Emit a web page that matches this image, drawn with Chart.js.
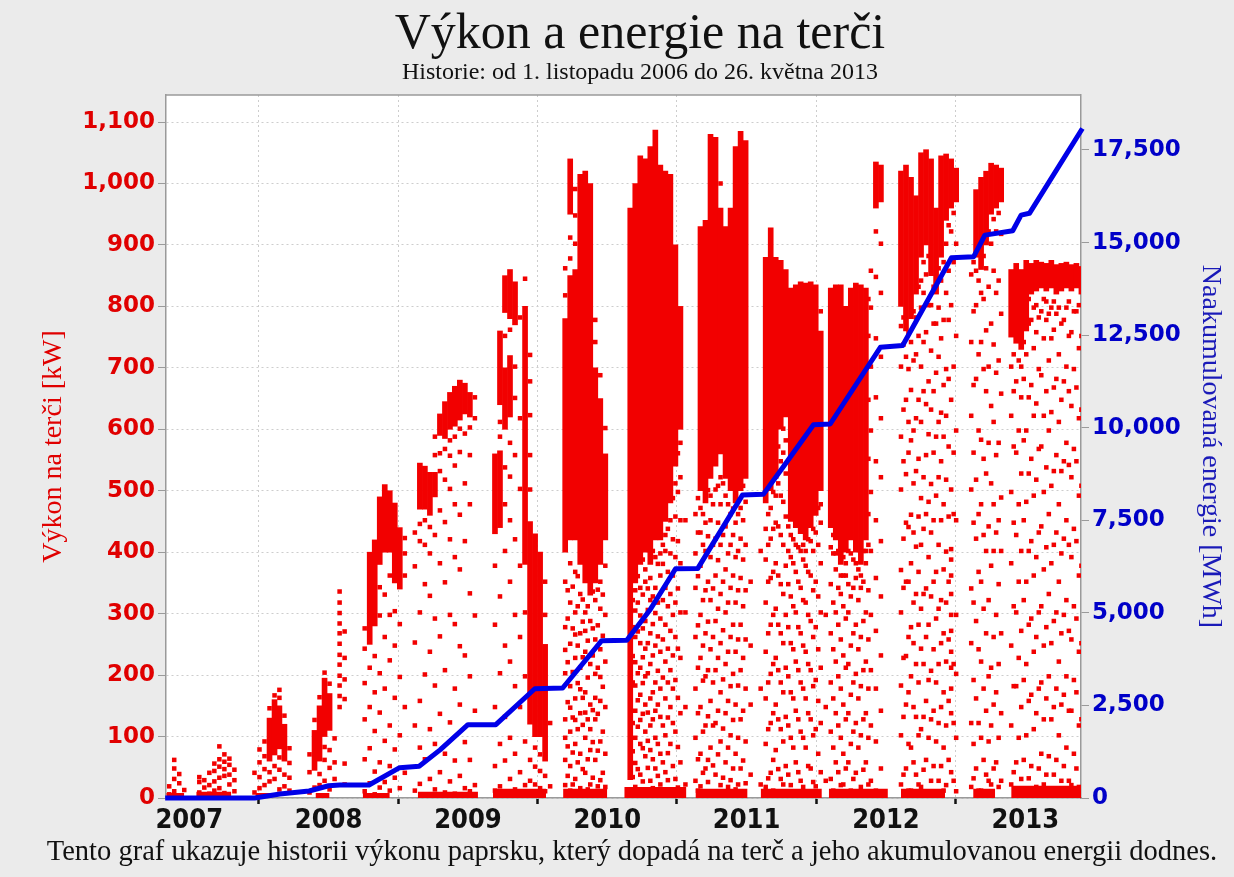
<!DOCTYPE html>
<html>
<head>
<meta charset="utf-8">
<script src="https://cdn.jsdelivr.net/npm/chart.js@4.4.0/dist/chart.umd.min.js"></script>
<style>
  html, body { margin: 0; padding: 0; background: #ebebeb; }
  #wrap { position: relative; width: 1234px; height: 877px; overflow: hidden; }
  #chart { position: absolute; left: 0; top: 0; }
  .txt { position: absolute; left: 0; width: 1280px; text-align: center; line-height: 1;
         font-family: "Liberation Serif", "Times New Roman", serif; color: #111; white-space: nowrap; }
</style>
</head>
<body>
<div id="wrap">
  <canvas id="chart" width="1234" height="877"></canvas>
  <div class="txt" style="top:6px;font-size:50px">Výkon a energie na terči</div>
  <div class="txt" style="top:59px;font-size:24px">Historie: od 1. listopadu 2006 do 26. května 2013</div>
  <div class="txt" style="top:837px;font-size:28.5px;width:1264px">Tento graf ukazuje historii výkonu paprsku, který dopadá na terč a jeho akumulovanou energii dodnes.</div>
</div>
<script>
// axis ticks
const yearTicks = [2007, 2008, 2009, 2010, 2011, 2012, 2013];
const powerTicks = [0, 100, 200, 300, 400, 500, 600, 700, 800, 900, 1000, 1100];
const energyTicks = [0, 2500, 5000, 7500, 10000, 12500, 15000, 17500];

// accumulated energy on target [MWh]
const energyYear = [2006.827, 2007.47, 2007.65, 2007.86, 2008.00, 2008.08, 2008.29, 2008.51, 2008.65, 2008.80,
  2009.00, 2009.20, 2009.48, 2009.68, 2009.96, 2010.14, 2010.31, 2010.49, 2010.65, 2010.97, 2011.12, 2011.27,
  2011.48, 2011.60, 2011.96, 2012.12, 2012.47, 2012.63, 2012.71, 2012.91, 2012.97, 2013.03, 2013.41];
const energyMWh = [0, 0, 110, 190, 330, 350, 350, 820, 860, 1300,
  1980, 1980, 2950, 2970, 4250, 4260, 5100, 6190, 6200, 8180, 8200, 8980,
  10080, 10100, 12170, 12220, 14590, 14620, 15200, 15320, 15740, 15790, 18080];

// beam-on periods: near-zero samples along the bottom [start, end, kW]
const baseStart = [2006.835, 2007.050, 2007.475, 2007.906, 2008.245, 2008.640, 2009.180, 2009.683, 2010.122, 2010.633, 2011.101, 2011.590, 2012.108, 2012.626, 2012.899];
const baseEnd   = [2006.964, 2007.302, 2007.590, 2008.007, 2008.439, 2009.072, 2009.561, 2010.000, 2010.568, 2011.007, 2011.540, 2012.014, 2012.424, 2012.784, 2013.410];
const baseKW    = [8, 10, 8, 8, 8, 10, 15, 15, 18, 15, 15, 15, 15, 15, 20];

// dense power bands: [year, low kW, high kW]
const bands = [
  [2007.576, 60, 130], [2007.612, 70, 160], [2007.647, 80, 150], [2007.683, 60, 120],
  [2007.899, 45, 110], [2007.935, 60, 150], [2007.971, 100, 195], [2008.007, 110, 170],
  [2008.295, 250, 400], [2008.331, 280, 420], [2008.367, 380, 490], [2008.403, 400, 510], [2008.439, 400, 500], [2008.475, 350, 480], [2008.511, 340, 440],
  [2008.655, 470, 545], [2008.691, 470, 540], [2008.727, 460, 530], [2008.763, 490, 530], [2008.799, 590, 625], [2008.835, 585, 645],
  [2008.871, 600, 660], [2008.906, 605, 670], [2008.942, 615, 680], [2008.978, 625, 675], [2009.014, 620, 660],
  [2009.194, 430, 560], [2009.230, 440, 565], [2009.230, 640, 760], [2009.266, 600, 700], [2009.266, 790, 850], [2009.302, 780, 860],
  [2009.302, 620, 720], [2009.338, 770, 840], [2009.410, 380, 800], [2009.446, 120, 450], [2009.482, 100, 430], [2009.518, 100, 400], [2009.554, 60, 250],
  [2009.698, 400, 780], [2009.734, 420, 850], [2009.734, 950, 1040], [2009.770, 420, 860], [2009.806, 380, 1015], [2009.842, 350, 1020],
  [2009.878, 330, 1000], [2009.914, 350, 700], [2009.950, 380, 650], [2009.986, 420, 560],
  [2010.165, 30, 960], [2010.201, 350, 1000], [2010.237, 380, 1045], [2010.273, 400, 1040], [2010.309, 380, 1060], [2010.345, 420, 1087],
  [2010.381, 420, 1030], [2010.417, 450, 1020], [2010.453, 480, 1015], [2010.489, 540, 900], [2010.525, 600, 800],
  [2010.669, 500, 930], [2010.705, 480, 940], [2010.741, 520, 1080], [2010.777, 540, 1075], [2010.813, 560, 960],
  [2010.849, 520, 930], [2010.885, 500, 960], [2010.921, 480, 1060], [2010.957, 500, 1085], [2010.993, 520, 1070],
  [2011.137, 480, 880], [2011.173, 500, 928], [2011.209, 520, 880], [2011.245, 600, 875], [2011.281, 620, 860],
  [2011.317, 450, 830], [2011.353, 440, 835], [2011.388, 430, 840], [2011.424, 420, 838], [2011.460, 440, 840], [2011.496, 460, 835], [2011.532, 500, 760],
  [2011.604, 440, 830], [2011.640, 420, 835], [2011.676, 380, 835], [2011.712, 400, 800], [2011.748, 420, 830], [2011.784, 400, 838],
  [2011.820, 380, 835], [2011.856, 420, 830], [2011.928, 960, 1035], [2011.964, 970, 1030],
  [2012.108, 800, 1020], [2012.144, 760, 1030], [2012.180, 780, 1010], [2012.216, 820, 980], [2012.252, 880, 1050], [2012.288, 900, 1055],
  [2012.324, 850, 1040], [2012.360, 820, 960], [2012.396, 880, 1045], [2012.432, 940, 1048], [2012.468, 960, 1040], [2012.504, 970, 1025],
  [2012.647, 880, 990], [2012.683, 860, 1010], [2012.719, 900, 1020], [2012.755, 950, 1033], [2012.791, 960, 1030], [2012.827, 970, 1025],
  [2012.899, 750, 860], [2012.935, 740, 870], [2012.971, 730, 860], [2013.007, 760, 875], [2013.043, 820, 870], [2013.079, 825, 875],
  [2013.115, 830, 872], [2013.151, 825, 870], [2013.187, 830, 875], [2013.223, 820, 868], [2013.259, 825, 870], [2013.295, 830, 872],
  [2013.331, 825, 868], [2013.367, 830, 870], [2013.403, 820, 865]
];

// scattered power samples: [year, kW, kW, ...]
const dots2007 = [
  [2006.856, 6, 19], [2006.892, 11, 31, 48, 62], [2006.928, 4, 24, 39], [2006.964, 13],
  [2007.072, 9, 26, 34], [2007.108, 17, 29], [2007.144, 7, 21, 41], [2007.180, 12, 27, 44, 56],
  [2007.216, 16, 33, 51, 63, 84], [2007.252, 8, 36, 47, 59, 71], [2007.288, 22, 38, 54, 64], [2007.324, 11, 29, 46],
  [2007.468, 9, 41], [2007.504, 16, 34, 58, 79], [2007.540, 21, 47, 68, 92], [2007.576, 27, 42, 146],
  [2007.612, 31, 52, 167], [2007.647, 14, 46, 66, 163, 176], [2007.683, 19, 38, 134], [2007.719, 12, 33, 57, 81],
  [2007.863, 9, 42, 71], [2007.899, 17, 127], [2007.935, 21, 39, 164], [2007.971, 28, 62, 83, 204], [2008.007, 14, 49, 78, 186]
];
const dots2008 = [
  [2008.043, 31, 58, 97], [2008.079, 148, 166, 183, 199, 217, 233, 251, 268, 284, 301, 318, 336], [2008.115, 22, 56, 161, 193, 228, 271],
  [2008.259, 11, 63, 128, 187, 243, 276], [2008.295, 24, 81, 148, 212], [2008.331, 6, 43, 109, 172, 231],
  [2008.367, 17, 58, 139, 203, 297, 343], [2008.403, 26, 93, 178, 262, 331], [2008.439, 12, 52, 118, 224, 298, 362],
  [2008.475, 33, 79, 163, 248, 304], [2008.511, 16, 102, 197, 283], [2008.547, 41, 148, 362, 398, 423],
  [2008.619, 12, 118, 253, 377, 432], [2008.655, 23, 82, 158, 302, 418, 446], [2008.691, 6, 63, 201, 348, 412, 452],
  [2008.727, 31, 112, 238, 329, 398, 441], [2008.763, 14, 88, 183, 292, 428, 558, 588], [2008.799, 42, 137, 263, 382, 468, 532, 561],
  [2008.835, 9, 72, 208, 351, 449, 518, 568], [2008.871, 27, 123, 298, 421, 503, 557, 582], [2008.906, 7, 61, 178, 283, 392, 478, 541, 588],
  [2008.942, 36, 152, 247, 372, 461, 563, 601], [2008.978, 16, 91, 232, 418, 512, 593]
];
const dots2009 = [
  [2009.014, 11, 62, 198, 333, 478, 558, 603], [2009.050, 21, 142, 297, 618, 652],
  [2009.194, 12, 52, 148, 282, 378], [2009.230, 19, 88, 203, 328, 588, 612], [2009.266, 6, 61, 132, 248, 402, 478, 538, 752],
  [2009.302, 31, 98, 222, 352, 452, 523, 578, 762], [2009.338, 14, 72, 182, 298, 421, 558, 651, 702], [2009.374, 42, 148, 262, 378, 503, 618, 782],
  [2009.410, 21, 92, 198, 302, 845], [2009.446, 28, 62, 502, 558, 623, 678, 721], [2009.482, 22, 51, 82],
  [2009.518, 16, 44, 71], [2009.554, 11, 36, 298, 352], [2009.590, 19, 122],
  [2009.698, 21, 62, 98, 128, 203, 241, 278, 352, 818, 862], [2009.734, 12, 52, 108, 147, 182, 251, 318, 382, 878, 912],
  [2009.770, 31, 88, 127, 162, 228, 266, 302, 368, 902, 948, 991], [2009.806, 16, 72, 138, 177, 212, 268, 332],
  [2009.842, 41, 98, 139, 172, 238, 272, 302], [2009.878, 22, 78, 112, 152, 218, 288], [2009.914, 11, 62, 128, 163, 202, 258, 322, 742, 778],
  [2009.950, 29, 92, 158, 197, 242, 308, 352, 688], [2009.986, 18, 72, 148, 222, 298, 378, 602],
  [2009.716, 36, 84, 156, 221, 292, 338], [2009.752, 22, 74, 131, 205, 276, 344], [2009.788, 9, 58, 112, 187, 248, 312, 361],
  [2009.824, 47, 119, 163, 229, 287, 323], [2009.860, 14, 63, 128, 196, 256, 312], [2009.896, 33, 91, 143, 232, 276, 336],
  [2009.932, 19, 77, 137, 212, 281, 339], [2009.968, 41, 108, 181, 264, 331]
];
const dots2010 = [
  [2010.201, 18, 57, 98, 142, 183, 221, 262, 305, 338], [2010.237, 38, 88, 127, 168, 212, 252, 297, 342],
  [2010.273, 14, 68, 108, 152, 198, 243, 288, 352, 372], [2010.309, 28, 78, 118, 162, 218, 268, 322, 358],
  [2010.345, 48, 98, 142, 188, 248, 301, 342, 392], [2010.381, 22, 72, 132, 178, 238, 292, 362, 398],
  [2010.417, 42, 102, 162, 222, 282, 342, 402, 428], [2010.453, 12, 88, 148, 208, 272, 332, 398, 452],
  [2010.489, 31, 108, 192, 262, 318, 392, 458, 512], [2010.525, 58, 138, 228, 302, 382, 452, 522, 578],
  [2010.561, 22, 148, 302, 452],
  [2010.183, 34, 76, 122, 188, 231, 278, 322], [2010.219, 9, 47, 116, 159, 203, 271, 318, 361],
  [2010.255, 27, 81, 137, 187, 229, 276, 331, 388], [2010.291, 49, 93, 139, 203, 252, 306, 341],
  [2010.327, 16, 63, 128, 172, 232, 283, 328, 402], [2010.363, 36, 88, 152, 207, 263, 318, 381],
  [2010.399, 11, 58, 118, 196, 258, 322, 381, 412], [2010.435, 29, 73, 131, 188, 243, 312, 368, 438],
  [2010.471, 52, 122, 178, 232, 298, 362, 421, 488], [2010.507, 17, 83, 163, 243, 341, 418, 498, 561],
  [2010.633, 28, 98, 178, 262, 342, 398, 462], [2010.669, 19, 72, 148, 228, 298, 378, 432, 472],
  [2010.705, 48, 118, 198, 268, 338, 402, 448], [2010.741, 11, 82, 158, 242, 322, 392, 452, 492],
  [2010.777, 38, 122, 208, 288, 362, 422, 502], [2010.813, 21, 92, 172, 252, 332, 412, 478, 522, 1000],
  [2010.849, 58, 138, 218, 302, 372, 442, 492], [2010.885, 29, 102, 182, 262, 342, 412, 462],
  [2010.921, 14, 72, 152, 238, 318, 392, 448], [2010.957, 48, 128, 208, 282, 358, 422, 472],
  [2010.993, 24, 92, 178, 258, 338, 412, 482],
  [2010.651, 12, 63, 138, 212, 281, 361, 432, 488], [2010.687, 41, 108, 191, 248, 322, 412, 462],
  [2010.723, 26, 62, 133, 208, 287, 352, 426, 501], [2010.759, 53, 118, 188, 262, 341, 412, 478],
  [2010.795, 8, 71, 142, 228, 308, 387, 448, 508], [2010.831, 33, 113, 193, 273, 352, 428, 512],
  [2010.867, 18, 82, 158, 238, 318, 398, 478], [2010.903, 48, 127, 202, 282, 362, 428, 471],
  [2010.939, 22, 98, 183, 258, 338, 402, 462], [2010.975, 61, 142, 228, 312, 388, 452, 508]
];
const dots2011 = [
  [2011.029, 38, 152, 248, 352], [2011.101, 22, 178, 402],
  [2011.137, 18, 88, 162, 238, 318, 388, 438], [2011.173, 41, 122, 202, 282, 358, 422, 472],
  [2011.209, 9, 78, 152, 228, 308, 382, 448, 492], [2011.245, 31, 112, 188, 268, 348, 428, 492, 548],
  [2011.281, 52, 132, 212, 298, 378, 458, 528, 582], [2011.317, 21, 98, 172, 252, 328, 392, 428],
  [2011.353, 58, 142, 222, 302, 368, 412], [2011.388, 28, 108, 188, 268, 342, 402],
  [2011.424, 11, 82, 162, 238, 318, 378, 402], [2011.460, 48, 128, 208, 288, 362, 418],
  [2011.496, 19, 112, 192, 278, 352, 432], [2011.532, 42, 122, 212, 302, 382, 448, 478, 792],
  [2011.568, 28, 148, 298],
  [2011.155, 32, 112, 188, 268, 352, 412, 462], [2011.191, 12, 62, 138, 218, 298, 368, 438, 498],
  [2011.227, 47, 128, 208, 282, 362, 442, 512, 572], [2011.263, 22, 92, 172, 252, 332, 412, 482, 562, 601],
  [2011.299, 38, 118, 198, 278, 348, 402, 442], [2011.335, 11, 82, 162, 242, 312, 382, 421],
  [2011.371, 42, 128, 208, 278, 352, 408], [2011.406, 18, 98, 178, 248, 322, 388, 412],
  [2011.442, 52, 138, 218, 298, 368, 421], [2011.478, 26, 102, 182, 262, 338, 402, 438],
  [2011.514, 8, 72, 158, 242, 328, 412, 472],
  [2011.604, 31, 108, 188, 268, 348, 408], [2011.640, 58, 138, 222, 302, 372, 398],
  [2011.676, 21, 98, 178, 258, 332, 362], [2011.712, 48, 128, 212, 292, 362, 382],
  [2011.748, 12, 88, 168, 248, 328, 398], [2011.784, 41, 122, 202, 282, 358, 382],
  [2011.820, 18, 102, 182, 262, 342, 362], [2011.856, 58, 138, 222, 302, 382, 402],
  [2011.622, 12, 82, 162, 242, 318, 398, 428], [2011.658, 42, 118, 198, 282, 342, 402],
  [2011.694, 22, 72, 152, 232, 312, 362, 392], [2011.730, 58, 138, 218, 302, 348, 402],
  [2011.766, 31, 108, 188, 268, 342, 388], [2011.802, 9, 82, 162, 242, 322, 372],
  [2011.838, 46, 128, 208, 288, 352, 402], [2011.874, 22, 98, 178, 258, 338, 412, 462, 552, 648, 752, 812],
  [2011.892, 28, 118, 208, 298, 402, 498, 598, 702, 798, 858],
  [2011.928, 12, 92, 178, 272, 358, 452, 548, 652, 748, 848, 922],
  [2011.964, 48, 142, 232, 328, 418, 522, 618, 718, 822, 902]
];
const dots2012 = [
  [2012.108, 22, 102, 183, 302, 371, 502, 588, 702, 768], [2012.144, 48, 152, 231, 352, 448, 527, 648, 718],
  [2012.180, 12, 82, 198, 278, 382, 461, 582, 664, 742], [2012.216, 38, 132, 218, 332, 409, 532, 618, 722, 782],
  [2012.252, 18, 112, 243, 308, 412, 488, 612, 702, 798, 842], [2012.288, 62, 158, 262, 341, 462, 558, 641, 758, 852],
  [2012.324, 28, 128, 207, 328, 432, 511, 632, 728, 802], [2012.360, 9, 92, 188, 292, 368, 492, 588, 692, 772],
  [2012.396, 52, 148, 252, 322, 452, 548, 627, 748, 842], [2012.432, 21, 118, 222, 318, 401, 518, 622, 698, 822, 902],
  [2012.468, 42, 138, 178, 212, 238, 272, 298, 332, 362, 388, 405, 502, 648, 802, 922], [2012.504, 11, 98, 202, 298, 452, 598, 752, 902],
  [2012.126, 38, 132, 228, 342, 422, 548, 632, 738, 782], [2012.162, 12, 88, 172, 262, 352, 441, 562, 612, 698, 758],
  [2012.198, 58, 148, 252, 318, 432, 512, 598, 712, 792], [2012.234, 22, 102, 188, 282, 368, 458, 552, 648, 752, 832],
  [2012.270, 46, 132, 218, 332, 438, 522, 662, 742, 822, 872], [2012.306, 8, 98, 192, 282, 392, 482, 592, 678, 802, 882],
  [2012.342, 52, 142, 242, 352, 452, 562, 662, 772, 832], [2012.378, 28, 122, 218, 308, 412, 522, 612, 718, 798, 862],
  [2012.414, 12, 82, 172, 268, 372, 478, 588, 672, 778, 872], [2012.450, 62, 158, 258, 352, 458, 572, 682, 778, 858, 932],
  [2012.486, 28, 122, 218, 462, 562, 702, 872, 952],
  [2012.612, 18, 122, 252, 341, 502, 622, 742, 852], [2012.647, 48, 162, 288, 422, 518, 682, 802, 858],
  [2012.683, 12, 98, 222, 352, 478, 583, 742, 822], [2012.719, 38, 142, 268, 402, 528, 662, 761, 862],
  [2012.755, 22, 118, 212, 378, 512, 638, 772, 902], [2012.791, 58, 172, 298, 432, 558, 692, 822, 922],
  [2012.827, 28, 138, 268, 402, 489, 658, 788, 918],
  [2012.629, 32, 88, 192, 318, 448, 562, 672, 792, 872], [2012.665, 12, 122, 242, 368, 462, 598, 722, 842],
  [2012.701, 62, 178, 308, 428, 552, 698, 812, 882], [2012.737, 28, 92, 198, 322, 442, 578, 702, 832, 922],
  [2012.773, 48, 152, 262, 402, 478, 612, 738, 858, 942], [2012.809, 18, 98, 218, 348, 452, 578, 712, 842, 952]
];
const dots2013 = [
  [2012.899, 22, 118, 248, 382, 498, 622, 702], [2012.935, 58, 182, 302, 428, 562, 678],
  [2012.971, 31, 148, 272, 402, 528, 652, 702], [2013.007, 9, 102, 218, 352, 482, 598, 722],
  [2013.043, 52, 168, 292, 418, 552, 672, 778], [2013.079, 18, 138, 262, 392, 518, 642, 758, 802],
  [2013.115, 72, 188, 312, 442, 572, 688, 792], [2013.151, 38, 162, 278, 408, 538, 662, 778, 808],
  [2013.187, 11, 128, 252, 382, 508, 628, 748, 798], [2013.223, 62, 178, 302, 432, 558, 682, 788],
  [2013.259, 28, 152, 268, 398, 532, 648, 772], [2013.295, 82, 198, 322, 452, 578, 702, 798],
  [2013.331, 21, 142, 258, 392, 522, 638, 758], [2013.367, 48, 172, 292, 418, 548, 668, 792],
  [2013.403, 12, 128, 252, 378, 508, 632, 752],
  [2012.917, 42, 182, 312, 448, 572, 662, 722], [2012.953, 12, 98, 228, 352, 478, 598, 712],
  [2012.989, 62, 192, 322, 452, 582, 682, 742], [2013.025, 32, 158, 282, 402, 528, 652, 772, 812],
  [2013.061, 8, 112, 238, 362, 492, 622, 732, 798], [2013.097, 48, 178, 302, 432, 568, 698, 782],
  [2013.133, 22, 128, 248, 372, 498, 622, 748, 812], [2013.169, 68, 198, 332, 462, 598, 712, 788],
  [2013.205, 38, 148, 288, 412, 532, 668, 762, 808], [2013.241, 12, 102, 222, 352, 478, 612, 722, 798],
  [2013.277, 52, 168, 298, 422, 548, 678, 778], [2013.313, 28, 142, 272, 412, 542, 662, 752, 808],
  [2013.349, 72, 192, 312, 438, 568, 698, 792], [2013.385, 18, 118, 238, 362, 492, 618, 732, 802]
];

const RED = '#f20000';
const BLUE = '#0000e8';

const energyData = energyYear.map((x, i) => ({ x: x, y: energyMWh[i] }));
const bandData = bands.map(b => ({ x: b[0], y: [b[1], b[2]] }));
const dotData = [];
[dots2007, dots2008, dots2009, dots2010, dots2011, dots2012, dots2013].forEach(list => {
  list.forEach(col => col.slice(1).forEach(v => dotData.push({ x: col[0], y: v })));
});
const baseData = [];
baseStart.forEach((s, i) => {
  baseData.push({ x: s, y: baseKW[i] }, { x: baseEnd[i], y: baseKW[i] }, { x: baseEnd[i] + 0.001, y: null });
});

// white plot area + frame on top
const plotFrame = {
  id: 'plotFrame',
  beforeDraw(chart) {
    const { ctx, chartArea: a } = chart;
    ctx.save();
    ctx.fillStyle = '#ffffff';
    ctx.fillRect(a.left, a.top, a.width, a.height);
    ctx.restore();
  },
  afterDraw(chart) {
    const { ctx, chartArea: a } = chart;
    ctx.save();
    ctx.strokeStyle = '#9a9a9a';
    ctx.lineWidth = 1.5;
    ctx.beginPath();
    ctx.moveTo(a.left, a.top);
    ctx.lineTo(a.right, a.top);
    ctx.stroke();
    ctx.restore();
  }
};

const tickFont = { family: "'DejaVu Sans', Verdana, sans-serif", weight: 'bold', size: 23 };

new Chart(document.getElementById('chart').getContext('2d'), {
  type: 'scatter',
  data: {
    datasets: [
      { type: 'line', data: energyData, yAxisID: 'yE', borderColor: BLUE, borderWidth: 5,
        pointRadius: 0, tension: 0, borderJoinStyle: 'round', order: 0, clip: 4 },
      { type: 'scatter', data: dotData, yAxisID: 'yP', pointStyle: 'rect', pointRadius: 3.2,
        backgroundColor: RED, borderWidth: 0, order: 1 },
      { type: 'bar', data: bandData, yAxisID: 'yP', backgroundColor: RED, borderWidth: 0,
        barThickness: 5, grouped: false, order: 2 },
      { type: 'line', data: baseData, yAxisID: 'yP', borderWidth: 0, pointRadius: 0,
        backgroundColor: RED, fill: 'origin', spanGaps: false, order: 3 }
    ]
  },
  options: {
    responsive: false,
    animation: false,
    devicePixelRatio: 1,
    layout: { padding: { left: 0, right: 0, top: 95, bottom: 39 } },
    plugins: { legend: { display: false }, tooltip: { enabled: false } },
    scales: {
      x: {
        type: 'linear', min: 2006.833, max: 2013.40, offset: false,
        afterBuildTicks: s => { s.ticks = yearTicks.map(v => ({ value: v })); },
        afterFit: s => { s.height = 40; },
        ticks: { callback: v => String(v), color: '#111', padding: 1, maxRotation: 0, autoSkip: false,
          font: { family: "'DejaVu Sans Condensed', 'DejaVu Sans', sans-serif", weight: 'bold', size: 27 } },
        grid: { color: '#cdcdcd', lineWidth: 1, tickColor: '#111', tickWidth: 2.5, tickLength: 6, tickBorderDash: [] },
        border: { color: '#9a9a9a', width: 1.5, dash: [2, 3] }
      },
      yP: {
        position: 'left', min: 0, max: 1144,
        afterBuildTicks: s => { s.ticks = powerTicks.map(v => ({ value: v })); },
        afterFit: s => { s.width = 166; },
        ticks: { callback: v => v.toLocaleString('en-US'), color: '#e00000', padding: 3, font: tickFont },
        grid: { color: '#cdcdcd', lineWidth: 1, tickColor: '#9a9a9a', tickLength: 8, tickBorderDash: [] },
        border: { color: '#9a9a9a', width: 1.5, dash: [2, 3] },
        title: { display: true, text: 'Výkon na terči [kW]', color: '#e00000', padding: { top: 37, bottom: 0 },
          font: { family: "'Liberation Serif', serif", size: 28, lineHeight: 1.2 } }
      },
      yE: {
        position: 'right', min: 0, max: 18985,
        afterBuildTicks: s => { s.ticks = energyTicks.map(v => ({ value: v })); },
        afterFit: s => { s.width = 153; },
        ticks: { callback: v => v.toLocaleString('en-US'), color: '#0000c8', padding: 3, font: tickFont },
        grid: { drawOnChartArea: false, tickColor: '#9a9a9a', tickLength: 8 },
        border: { color: '#9a9a9a', width: 1.5 },
        title: { display: true, text: 'Naakumulovaná energie [MWh]', color: '#1a1ab8', padding: { top: 7, bottom: 0 },
          font: { family: "'Liberation Serif', serif", size: 28, lineHeight: 1.2 } }
      }
    }
  },
  plugins: [plotFrame]
});
</script>
</body>
</html>
